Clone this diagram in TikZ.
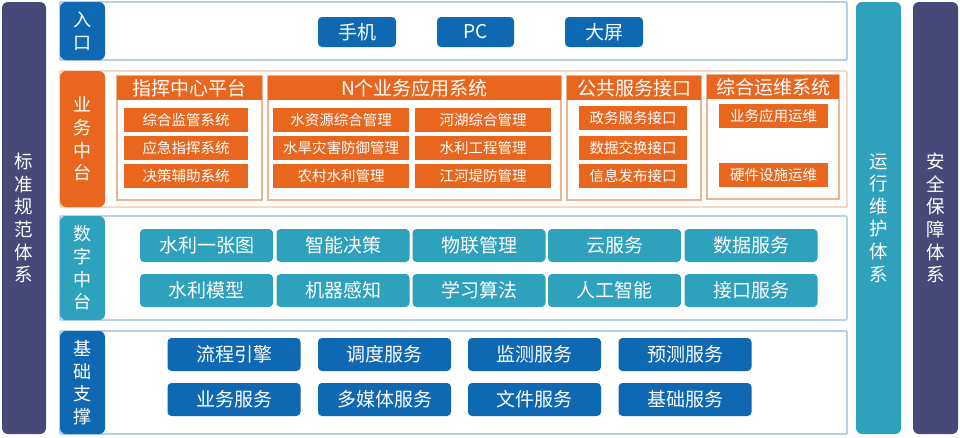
\documentclass[tikz,border=0pt]{standalone}
\usepackage{fontspec}
\setmainfont{Noto Sans CJK SC}
\definecolor{slate}{HTML}{474A78}
\definecolor{tealc}{HTML}{2EA1BC}
\definecolor{dblue}{HTML}{0F68B2}
\definecolor{orng}{HTML}{E9661F}
\definecolor{fblue}{HTML}{8DB8D8}
\definecolor{forng}{HTML}{F0C4A6}
\definecolor{fteal}{HTML}{8EC3D3}
\definecolor{porng}{HTML}{EBB492}
\tikzset{
  sidebar/.style={fill=#1, rounded corners=6pt, inner sep=0pt, minimum width=44pt, minimum height=432pt, text=white, align=center, font=\fontsize{18.5}{22.6}\selectfont},
  frame/.style={draw=#1, line width=1.1pt, fill=white, rounded corners=1pt, minimum width=787pt, inner sep=0pt},
  rowlab/.style={fill=#1, rounded corners=6pt, inner sep=0pt, minimum width=45pt, text=white, align=center, font=\fontsize{18}{22.6}\selectfont},
  btn/.style={fill=#1, rounded corners=4pt, inner sep=0pt, minimum height=33pt, minimum width=133pt, text=white, font=\fontsize{19}{21}\selectfont},
  panel/.style={draw=porng, line width=1.4pt, fill=white, inner sep=0pt, minimum height=124pt},
  phead/.style={fill=orng, inner sep=0pt, minimum height=24pt, text=white, font=\fontsize{19}{21}\selectfont},
  pitem/.style={fill=orng, inner sep=0pt, minimum height=24pt, text=white, font=\fontsize{14.5}{16}\selectfont},
}
\begin{document}
\begin{tikzpicture}[x=1pt,y=-1pt]
\useasboundingbox (0,0) rectangle (960,437);
% side bars
\node[sidebar=slate] (std) at (24,218) {标\\准\\规\\范\\体\\系};
\node[sidebar=tealc, minimum width=45pt] (ops) at (878.5,218) {运\\行\\维\\护\\体\\系};
\node[sidebar=slate, minimum width=45pt] (sec) at (935.5,218) {安\\全\\保\\障\\体\\系};
% row 1
\node[frame=fblue, minimum height=58pt] (f1) at (453.5,31) {};
\node[rowlab=dblue, minimum height=58pt] (l1) at (82.5,31) {入\\口};
\node[btn=dblue, minimum width=78pt, minimum height=30pt] (b11) at (357,32) {手机};
\node[btn=dblue, minimum width=77pt, minimum height=30pt] (b12) at (475.5,32) {PC};
\node[btn=dblue, minimum width=78pt, minimum height=30pt] (b13) at (604,32) {大屏};
% row 2
\node[frame=forng, minimum height=136pt] (f2) at (453.5,139) {};
\node[rowlab=orng, minimum height=136pt] (l2) at (82.5,139) {业\\务\\中\\台};
\node[panel, minimum width=145pt] (p1) at (189.5,138) {};
\node[phead, minimum width=145pt] (h1) at (189.5,88) {指挥中心平台};
\node[pitem, minimum width=124pt] (i11) at (186,120) {综合监管系统};
\node[pitem, minimum width=124pt] (i12) at (186,148) {应急指挥系统};
\node[pitem, minimum width=124pt] (i13) at (186,176) {决策辅助系统};
\node[panel, minimum width=293pt] (p2) at (414.5,138) {};
\node[phead, minimum width=293pt] (h2) at (414.5,88) {N个业务应用系统};
\node[pitem, minimum width=136pt] (i21) at (341,120) {水资源综合管理};
\node[pitem, minimum width=136pt] (i22) at (341,148) {水旱灾害防御管理};
\node[pitem, minimum width=136pt] (i23) at (341,176) {农村水利管理};
\node[pitem, minimum width=136pt] (i24) at (483,120) {河湖综合管理};
\node[pitem, minimum width=136pt] (i25) at (483,148) {水利工程管理};
\node[pitem, minimum width=136pt] (i26) at (483,176) {江河堤防管理};
\node[panel, minimum width=134pt] (p3) at (634,138) {};
\node[phead, minimum width=134pt] (h3) at (634,88) {公共服务接口};
\node[pitem, minimum width=108pt] (i31) at (633,118) {政务服务接口};
\node[pitem, minimum width=108pt] (i32) at (633,148) {数据交换接口};
\node[pitem, minimum width=108pt] (i33) at (633,176) {信息发布接口};
\node[panel, minimum width=132pt] (p4) at (773,137) {};
\node[phead, minimum width=132pt] (h4) at (773,87) {综合运维系统};
\node[pitem, minimum width=109pt] (i41) at (773.5,116) {业务应用运维};
\node[pitem, minimum width=109pt] (i42) at (773.5,175) {硬件设施运维};
% row 3
\node[frame=fteal, minimum height=104pt] (f3) at (453.5,268) {};
\node[rowlab=tealc, minimum height=104pt] (l3) at (82.5,268) {数\\字\\中\\台};
\node[btn=tealc] (d11) at (206.5,245.5) {水利一张图};
\node[btn=tealc] (d12) at (343,245.5) {智能决策};
\node[btn=tealc] (d13) at (479,245.5) {物联管理};
\node[btn=tealc] (d14) at (614.5,245.5) {云服务};
\node[btn=tealc] (d15) at (751,245.5) {数据服务};
\node[btn=tealc] (d21) at (206.5,290.5) {水利模型};
\node[btn=tealc] (d22) at (343,290.5) {机器感知};
\node[btn=tealc] (d23) at (479,290.5) {学习算法};
\node[btn=tealc] (d24) at (614.5,290.5) {人工智能};
\node[btn=tealc] (d25) at (751,290.5) {接口服务};
% row 4
\node[frame=fblue, minimum height=103pt] (f4) at (453.5,382.5) {};
\node[rowlab=dblue, minimum height=103pt] (l4) at (82.5,382.5) {基\\础\\支\\撑};
\node[btn=dblue] (e11) at (234,354.5) {流程引擎};
\node[btn=dblue] (e12) at (384.5,354.5) {调度服务};
\node[btn=dblue] (e13) at (534.5,354.5) {监测服务};
\node[btn=dblue] (e14) at (685,354.5) {预测服务};
\node[btn=dblue] (e21) at (234,399.5) {业务服务};
\node[btn=dblue] (e22) at (384.5,399.5) {多媒体服务};
\node[btn=dblue] (e23) at (534.5,399.5) {文件服务};
\node[btn=dblue] (e24) at (685,399.5) {基础服务};
\end{tikzpicture}
\end{document}
